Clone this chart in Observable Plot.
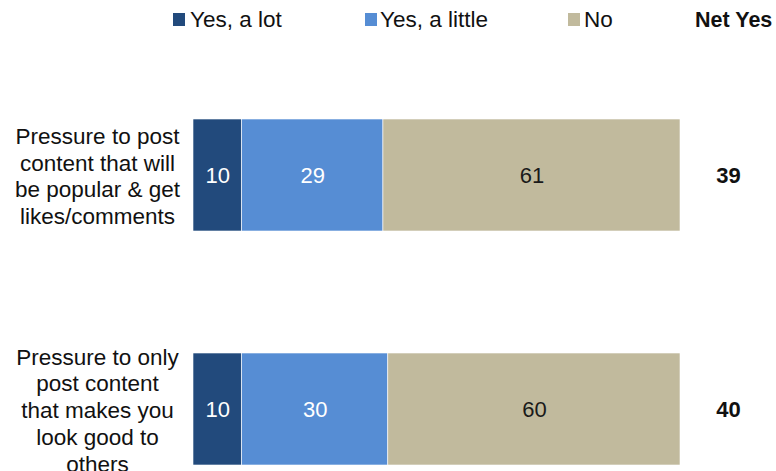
<!DOCTYPE html>
<html>
<head>
<meta charset="utf-8">
<script src="https://cdn.jsdelivr.net/npm/d3@7"></script>
<script src="https://cdn.jsdelivr.net/npm/@observablehq/plot@0.6"></script>
<style>
  html, body { margin: 0; padding: 0; background: #fff; }
  #wrap { position: relative; width: 776px; height: 471px; overflow: hidden; font-family: "Liberation Sans", Arial, sans-serif; }
  #legend { position: relative; width: 776px; height: 44px; }
  .sw { position: absolute; top: 13px; width: 12px; height: 13px; }
  .lt { position: absolute; top: 7px; font-size: 22.5px; color: #111; line-height: 26px; white-space: nowrap; }
  .nethead { font-weight: bold; font-size: 21.5px; }
  svg { display: block; }
</style>
</head>
<body>
<div id="wrap">
  <div id="legend"></div>
  <div id="chart"></div>
</div>
<script>
const questions = [
  "Pressure to post content that will be popular & get likes/comments",
  "Pressure to only post content that makes you look good to others"
];
const questionLines = [
  "Pressure to post\ncontent that will\nbe popular & get\nlikes/comments",
  "Pressure to only\npost content\nthat makes you\nlook good to\nothers"
];
const responses = ["Yes, a lot", "Yes, a little", "No"];
const yesALot = [10, 10];
const yesALittle = [29, 30];
const no = [61, 60];
const netYes = [39, 40];
const colors = ["#224a7c", "#568dd4", "#c1ba9d"];
const textColors = ["#ffffff", "#ffffff", "#1a1a1a"];
const netHeader = "Net Yes";

// legend
const legendPos = [[173, 190], [365, 380], [568, 584]];
const legend = document.getElementById("legend");
responses.forEach((r, i) => {
  const sw = document.createElement("div");
  sw.className = "sw";
  sw.style.left = legendPos[i][0] + "px";
  sw.style.background = colors[i];
  legend.appendChild(sw);
  const t = document.createElement("div");
  t.className = "lt";
  t.style.left = legendPos[i][1] + "px";
  t.textContent = r;
  legend.appendChild(t);
});
const nh = document.createElement("div");
nh.className = "lt nethead";
nh.style.left = "695px";
nh.textContent = netHeader;
legend.appendChild(nh);

const series = [yesALot, yesALittle, no];
const rows = [];
questions.forEach((q, qi) => {
  responses.forEach((r, ri) => {
    rows.push({q, resp: r, value: series[ri][qi]});
  });
});
const netRows = questions.map((q, i) => ({q, net: netYes[i]}));
const labelOf = new Map(questions.map((q, i) => [q, questionLines[i]]));

const chart = Plot.plot({
  width: 776,
  height: 427,
  marginLeft: 193,
  marginRight: 48,
  marginTop: 0,
  marginBottom: 0,
  style: {fontFamily: "Liberation Sans, Arial, sans-serif", background: "white", overflow: "visible"},
  x: {domain: [0, 100], range: [193, 680], axis: null},
  y: {type: "band", domain: questions, range: [74, 421], paddingInner: 0.523, paddingOuter: 0, axis: null},
  color: {domain: responses, range: colors},
  marks: [
    Plot.barX(rows, Plot.stackX({x: "value", y: "q", fill: "resp", order: responses, stroke: "white", strokeWidth: 0.6})),
    Plot.text(rows, Plot.stackX({
      x: "value", y: "q", z: "resp", order: responses, text: d => String(d.value),
      fill: d => textColors[responses.indexOf(d.resp)], fontSize: 22
    })),
    Plot.axisY({
      tickSize: 0, tickPadding: 96, textAnchor: "middle", fontSize: 22.5, lineHeight: 1.19,
      tickFormat: d => labelOf.get(d), fill: "#111", label: null
    }),
    Plot.text(netRows, {y: "q", text: d => String(d.net), frameAnchor: "right", textAnchor: "middle", fontSize: 22, fontWeight: "bold", fill: "#111"})
  ]
});
document.getElementById("chart").appendChild(chart);
</script>
</body>
</html>
